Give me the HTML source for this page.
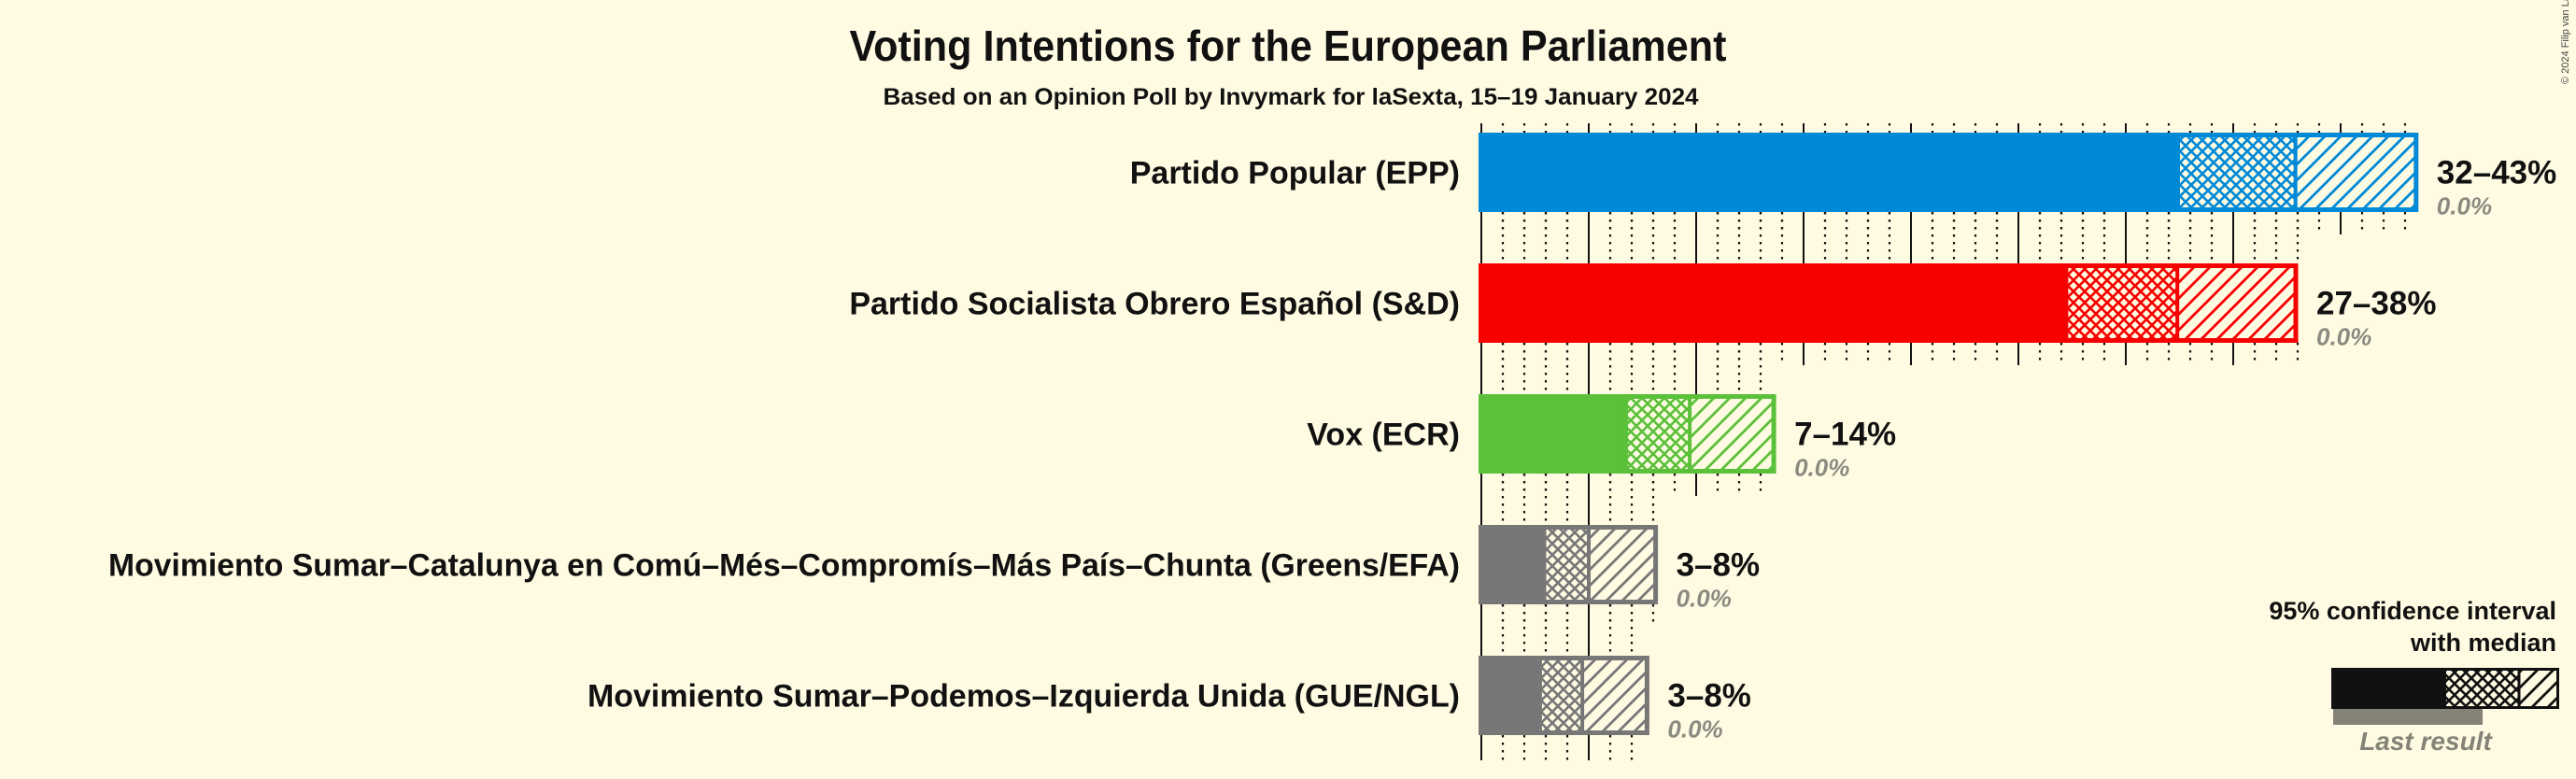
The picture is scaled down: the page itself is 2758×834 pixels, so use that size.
<!DOCTYPE html>
<html><head><meta charset="utf-8"><style>
html,body{margin:0;padding:0;background:#fffbe3;}
svg{display:block;font-family:"Liberation Sans",sans-serif;}
</style></head><body>
<svg id="chart" width="2758" height="834" viewBox="0 0 2758 834" xmlns="http://www.w3.org/2000/svg">
<defs id="defs"></defs>
<rect x="0" y="0" width="2758" height="834" fill="#fffbe3"/>
<text x="1379" y="65" text-anchor="middle" font-size="46" font-weight="bold" fill="#111" textLength="939" lengthAdjust="spacingAndGlyphs">Voting Intentions for the European Parliament</text>
<text x="1382" y="112" text-anchor="middle" font-size="25" font-weight="bold" fill="#111" textLength="873" lengthAdjust="spacingAndGlyphs">Based on an Opinion Poll by Invymark for laSexta, 15–19 January 2024</text>
<text x="0" y="0" font-size="11" fill="#444" transform="translate(2750,90) rotate(-90)">© 2024 Filip van Laenen</text>
<g id="grid"></g>
<g id="bars"></g>
<g id="legend">
  <text x="2737" y="663" text-anchor="end" font-size="27" font-weight="bold" fill="#111">95% confidence interval</text>
  <text x="2737" y="697" text-anchor="end" font-size="27" font-weight="bold" fill="#111">with median</text>
  <rect x="2498" y="759" width="160" height="17" fill="#858377"/>
  <rect x="2496" y="715" width="122" height="44" fill="#111"/>
  <rect x="2618" y="715" width="79" height="44" fill="url(#cross-leg)"/>
  <rect x="2697" y="715" width="43" height="44" fill="url(#diag-leg)"/>
  <rect x="2617.5" y="716.5" width="121" height="41" fill="none" stroke="#111" stroke-width="3"/>
  <line x1="2697" y1="715" x2="2697" y2="759" stroke="#111" stroke-width="3"/>
  <text x="2597" y="803" text-anchor="middle" font-size="28" font-style="italic" font-weight="bold" fill="#858377">Last result</text>
</g>
</svg>
<script>
const parties = ["Partido Popular (EPP)", "Partido Socialista Obrero Español (S&D)", "Vox (ECR)", "Movimiento Sumar–Catalunya en Comú–Més–Compromís–Más País–Chunta (Greens/EFA)", "Movimiento Sumar–Podemos–Izquierda Unida (GUE/NGL)"];
const lowerValues = [32.5, 27.3, 6.8, 3.0, 2.8];
const medianValues = [37.9, 32.4, 9.7, 5.0, 4.7];
const upperValues = [43.6, 38.0, 13.7, 8.2, 7.8];
const lastResults = [0.0, 0.0, 0.0, 0.0, 0.0];
const rangeLabels = ["32–43%", "27–38%", "7–14%", "3–8%", "3–8%"];
const lastLabels = ["0.0%", "0.0%", "0.0%", "0.0%", "0.0%"];
const colors = ["#0089d6", "#f80000", "#5bc03a", "#777777", "#777777"];
const labelWidths = [null, null, null, 1447, 934];

const NS = "http://www.w3.org/2000/svg";
const X0 = 1586, PX = 23.0, TOP0 = 142, ROWH = 140, BARH = 85;
const xs = v => X0 + v * PX;
const rowTop = i => TOP0 + i * ROWH;
function mk(tag, attrs, parent) {
  const e = document.createElementNS(NS, tag);
  for (const k in attrs) e.setAttribute(k, attrs[k]);
  parent.appendChild(e);
  return e;
}
const defs = document.getElementById('defs');
function patterns(id, col) {
  const p1 = mk('pattern', {id: 'cross-' + id, patternUnits: 'userSpaceOnUse', width: 12, height: 12}, defs);
  mk('rect', {x: 0, y: 0, width: 12, height: 12, fill: '#fffbe3'}, p1);
  mk('path', {d: 'M0,0 L12,12 M12,0 L0,12 M-6,6 L6,18 M6,-6 L18,6 M6,-6 L-6,6 M18,6 L6,18', stroke: col, 'stroke-width': 2.6}, p1);
  const p2 = mk('pattern', {id: 'diag-' + id, patternUnits: 'userSpaceOnUse', width: 17, height: 17}, defs);
  mk('rect', {x: 0, y: 0, width: 17, height: 17, fill: '#fffbe3'}, p2);
  mk('path', {d: 'M0,17 L17,0 M-4,4 L4,-4 M13,21 L21,13', stroke: col, 'stroke-width': 2.8}, p2);
}
colors.forEach((c, i) => patterns('p' + i, c));
patterns('leg', '#111');

const grid = document.getElementById('grid');
function gridLines(maxV, y1, y2, idx) {
  for (let v = 0; v <= Math.floor(maxV); v++) {
    const major = v % 5 === 0;
    const l = mk('line', {x1: xs(v), x2: xs(v), y1: y1, y2: y2, stroke: '#111',
      'stroke-width': major ? 2 : 2.2, 'stroke-dasharray': major ? 'none' : '2.5,5.5'}, grid);
    
    
  }
}
gridLines(upperValues[0], TOP0 - 10, TOP0, -1);
for (let i = 0; i < parties.length; i++) {
  const bot = rowTop(i) + BARH;
  if (i < parties.length - 1) {
    const nextTop = rowTop(i + 1);
    gridLines(upperValues[i], bot, bot + 24, i);
    gridLines(upperValues[i + 1], bot, nextTop, i);
  } else {
    gridLines(upperValues[i], bot, bot + 27, i);
  }
}

const bars = document.getElementById('bars');
parties.forEach((name, i) => {
  const t = rowTop(i), c = colors[i];
  const g = mk('g', {}, bars);
  
  
  const lab = mk('text', {x: 1563, y: t + BARH / 2 + 12, 'text-anchor': 'end', 'font-size': 34, 'font-weight': 'bold', fill: '#111'}, g);
  if (labelWidths[i]) { lab.setAttribute('textLength', labelWidths[i]); lab.setAttribute('lengthAdjust', 'spacingAndGlyphs'); }
  lab.textContent = name;
  
  
  const s = mk('rect', {x: xs(0) - 3, y: t, width: xs(lowerValues[i]) - xs(0) + 3, height: BARH, fill: c}, g);
  
  
  const ch = mk('rect', {x: xs(lowerValues[i]), y: t, width: xs(medianValues[i]) - xs(lowerValues[i]), height: BARH, fill: 'url(#cross-p' + i + ')'}, g);
  
  
  const dg = mk('rect', {x: xs(medianValues[i]), y: t, width: xs(upperValues[i]) - xs(medianValues[i]), height: BARH, fill: 'url(#diag-p' + i + ')'}, g);
  
  
  const bd = mk('rect', {x: xs(lowerValues[i]) - 2, y: t + 2.5, width: xs(upperValues[i]) - xs(lowerValues[i]), height: BARH - 5, fill: 'none', stroke: c, 'stroke-width': 5}, g);
  
  
  const md = mk('line', {x1: xs(medianValues[i]), x2: xs(medianValues[i]), y1: t, y2: t + BARH, stroke: c, 'stroke-width': 4}, g);
  
  
  if (lastResults[i] > 0) {
    const lr = mk('rect', {x: xs(0), y: t + BARH, width: xs(lastResults[i]) - xs(0), height: 14, fill: '#858377'}, g);
    
    
  }
  const vx = xs(upperValues[i]) + 20;
  const rl = mk('text', {x: vx, y: t + BARH / 2 + 12, 'font-size': 35, 'font-weight': 'bold', fill: '#111'}, g);
  rl.textContent = rangeLabels[i];
  
  
  const ll = mk('text', {x: vx, y: t + BARH / 2 + 45, 'font-size': 26, 'font-style': 'italic', 'font-weight': 'bold', fill: '#8a8a80'}, g);
  ll.textContent = lastLabels[i];
  
  
});
</script>
</body></html>
